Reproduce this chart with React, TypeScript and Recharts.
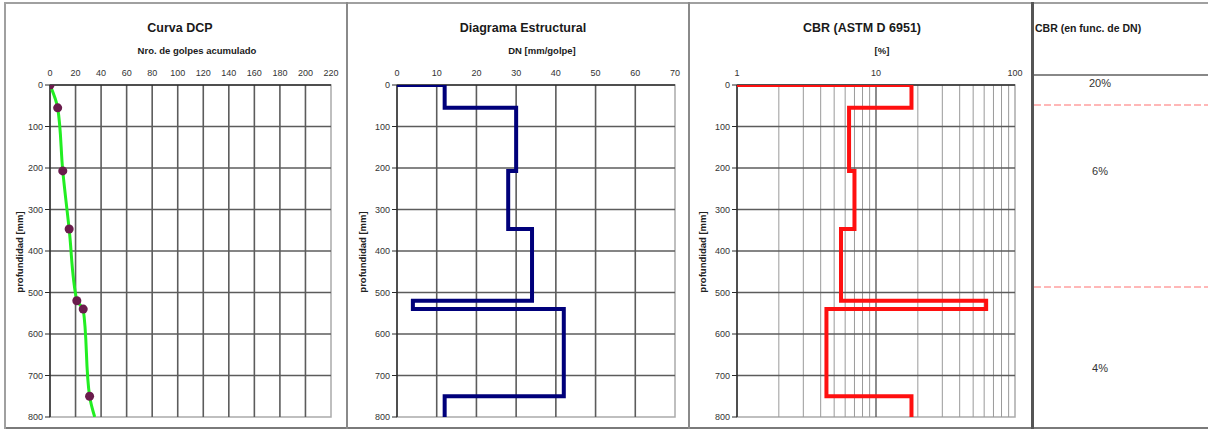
import { ScatterChart, Scatter, XAxis, YAxis, ReferenceLine, ReferenceArea } from "recharts"

// layer limits of the DCP test, depth in mm
const layerDepths = [0, 55, 207, 347, 520, 540, 750, 800]
// cumulative blows at the top of each layer
const blowCounts = [0, 6, 10, 15, 21, 26, 31]
// smoothed blow curve, one value per layer limit (runs on to 800 mm)
const trendBlows = [0, 6, 10, 15, 21, 26, 31, 35]
// penetration index per layer, mm/golpe
const dnValues = [12, 30, 28, 34, 4, 42, 12]
// CBR per layer, %
const cbrValues = [18, 6.4, 7, 5.6, 62, 4.4, 18]

const depthTicks = [0, 100, 200, 300, 400, 500, 600, 700, 800]
const blowTicks = [0, 20, 40, 60, 80, 100, 120, 140, 160, 180, 200, 220]
const dnTicks = [0, 10, 20, 30, 40, 50, 60, 70]
const cbrTicks = [1, 10, 100]
const cbrMinorTicks = [2, 3, 4, 5, 6, 7, 8, 9, 20, 30, 40, 50, 60, 70, 80, 90]

const cbrZones = ["20%", "6%", "4%"]

const FONT = '"Liberation Sans", Arial, sans-serif'
const GRID = "#5c5c5c"
const AXIS = "#2a2a2a"

const blowPoints = blowCounts.map((b, i) => ({ x: b, y: layerDepths[i] }))
const trendPoints = trendBlows.map((b, i) => ({ x: b, y: layerDepths[i] }))

// turns per-layer values into a stepped profile starting at the axis origin
function stepProfile(values: number[], start: number) {
  const pts = [{ x: start, y: layerDepths[0] }]
  values.forEach((v, i) => {
    pts.push({ x: v, y: layerDepths[i] }, { x: v, y: layerDepths[i + 1] })
  })
  return pts
}

const dnProfile = stepProfile(dnValues, 0)
const cbrProfile = stepProfile(cbrValues, 1)

const tickStyle = { fontSize: 9, fill: "#333", fontFamily: FONT }
const noShape = () => <g />

function depthAxis() {
  return (
    <YAxis
      type="number"
      dataKey="y"
      domain={[0, 800]}
      ticks={depthTicks}
      reversed
      allowDataOverflow
      width={30}
      tickSize={5}
      tickMargin={2}
      tick={tickStyle}
      tickLine={{ stroke: AXIS }}
      axisLine={{ stroke: AXIS, strokeWidth: 1.5 }}
    />
  )
}

function depthGrid() {
  return depthTicks.slice(1, -1).map((d) => (
    <ReferenceLine key={`h${d}`} y={d} stroke={GRID} strokeWidth={1.6} />
  ))
}

function Title({ x, y, size, text }: { x: number; y: number; size: number; text: string }) {
  return (
    <div
      style={{
        position: "absolute",
        left: x - 150,
        top: y - size / 2,
        width: 300,
        textAlign: "center",
        fontSize: size,
        lineHeight: 1,
        fontWeight: "bold",
        color: "#1a1a1a",
        whiteSpace: "nowrap",
      }}
    >
      {text}
    </div>
  )
}

function DepthLabel({ x }: { x: number }) {
  return (
    <div
      style={{
        position: "absolute",
        left: x,
        top: 252,
        transform: "translate(-50%, -50%) rotate(-90deg)",
        fontSize: 9.5,
        fontWeight: "bold",
        color: "#222",
        whiteSpace: "nowrap",
        lineHeight: 1,
      }}
    >
      profundidad [mm]
    </div>
  )
}

function Frame({ left, top, width, height, color }: any) {
  return <div style={{ position: "absolute", left, top, width, height, background: color }} />
}

function ZoneLabel({ top, text }: { top: number; text: string }) {
  return (
    <div
      style={{
        position: "absolute",
        left: 1034,
        width: 132,
        top,
        textAlign: "center",
        fontSize: 11,
        lineHeight: 1,
        color: "#333",
      }}
    >
      {text}
    </div>
  )
}

export default function App() {
  return (
    <div
      style={{
        position: "absolute",
        left: 0,
        top: 0,
        width: 1208,
        height: 430,
        background: "#fff",
        overflow: "hidden",
        fontFamily: FONT,
      }}
    >
      {/* Curva DCP */}
      <div style={{ position: "absolute", left: 5, top: 0 }}>
        <ScatterChart width={342} height={430} margin={{ top: 65, right: 16, bottom: 13, left: 15 }}>
          <XAxis
            type="number"
            dataKey="x"
            orientation="top"
            domain={[0, 220]}
            ticks={blowTicks}
            allowDataOverflow
            height={20}
            tickSize={5}
            tickMargin={4}
            tickLine={false}
            tick={tickStyle}
            axisLine={{ stroke: AXIS, strokeWidth: 1.5 }}
          />
          {depthAxis()}
          <ReferenceArea x1={0} x2={220} y1={0} y2={800} fill="none" stroke="#aaa" strokeWidth={1.5} />
          {blowTicks.slice(1, -1).map((b) => (
            <ReferenceLine key={`v${b}`} x={b} stroke={GRID} strokeWidth={1.6} />
          ))}
          {depthGrid()}
          <Scatter
            data={trendPoints}
            shape={noShape}
            line={{ stroke: "#22ee22", strokeWidth: 3 }}
            lineJointType="monotoneY"
            isAnimationActive={false}
          />
          <Scatter data={blowPoints} fill="#6a1c4c" isAnimationActive={false} />
        </ScatterChart>
      </div>

      {/* Diagrama Estructural */}
      <div style={{ position: "absolute", left: 348, top: 0 }}>
        <ScatterChart width={341} height={430} margin={{ top: 65, right: 14, bottom: 13, left: 19 }}>
          <XAxis
            type="number"
            dataKey="x"
            orientation="top"
            domain={[0, 70]}
            ticks={dnTicks}
            allowDataOverflow
            height={20}
            tickSize={5}
            tickMargin={4}
            tickLine={false}
            tick={tickStyle}
            axisLine={{ stroke: AXIS, strokeWidth: 1.5 }}
          />
          {depthAxis()}
          <ReferenceArea x1={0} x2={70} y1={0} y2={800} fill="none" stroke="#aaa" strokeWidth={1.5} />
          {dnTicks.slice(1, -1).map((d) => (
            <ReferenceLine key={`v${d}`} x={d} stroke={GRID} strokeWidth={1.6} />
          ))}
          {depthGrid()}
          <Scatter
            data={dnProfile}
            shape={noShape}
            line={{ stroke: "#00007a", strokeWidth: 4 }}
            isAnimationActive={false}
          />
        </ScatterChart>
      </div>

      {/* CBR (ASTM D 6951) */}
      <div style={{ position: "absolute", left: 690, top: 0 }}>
        <ScatterChart width={342} height={430} margin={{ top: 65, right: 17, bottom: 13, left: 17 }}>
          <XAxis
            type="number"
            dataKey="x"
            orientation="top"
            scale="log"
            domain={[1, 100]}
            ticks={cbrTicks}
            allowDataOverflow
            height={20}
            tickSize={5}
            tickMargin={4}
            tickLine={false}
            tick={tickStyle}
            axisLine={{ stroke: AXIS, strokeWidth: 1.5 }}
          />
          {depthAxis()}
          <ReferenceArea x1={1} x2={100} y1={0} y2={800} fill="none" stroke="#aaa" strokeWidth={1.5} />
          {cbrMinorTicks.map((c) => (
            <ReferenceLine key={`m${c}`} x={c} stroke="#9a9a9a" strokeWidth={1} />
          ))}
          <ReferenceLine x={10} stroke={GRID} strokeWidth={1.4} />
          {depthGrid()}
          <Scatter
            data={cbrProfile}
            shape={noShape}
            line={{ stroke: "#ff1010", strokeWidth: 4 }}
            isAnimationActive={false}
          />
        </ScatterChart>
      </div>

      <Title x={180} y={28} size={12.5} text="Curva DCP" />
      <Title x={197} y={51} size={9.5} text="Nro. de golpes acumulado" />
      <Title x={523} y={28} size={12.5} text="Diagrama Estructural" />
      <Title x={542} y={51} size={9.5} text="DN [mm/golpe]" />
      <Title x={862} y={28} size={12.5} text="CBR (ASTM D 6951)" />
      <Title x={882} y={51} size={9.5} text="[%]" />
      <DepthLabel x={20} />
      <DepthLabel x={363} />
      <DepthLabel x={703} />

      {/* table frame */}
      <Frame left={5} top={2} width={1203} height={2} color="#a0a0a0" />
      <Frame left={5} top={427} width={1203} height={2} color="#7a7a7a" />
      <Frame left={4} top={2} width={2} height={427} color="#a0a0a0" />
      <Frame left={346} top={2} width={2} height={427} color="#8a8a8a" />
      <Frame left={688} top={2} width={2} height={427} color="#8a8a8a" />
      <Frame left={1031} top={2} width={3} height={427} color="#555" />

      {/* CBR en función de DN */}
      <div
        style={{
          position: "absolute",
          left: 1035,
          top: 23,
          fontSize: 10.5,
          fontWeight: "bold",
          lineHeight: 1,
          color: "#1a1a1a",
          whiteSpace: "nowrap",
        }}
      >
        CBR (en func. de DN)
      </div>
      <Frame left={1034} top={74} width={174} height={1.5} color="#888" />
      <svg style={{ position: "absolute", left: 1034, top: 0 }} width={174} height={430}>
        <line x1={0} x2={174} y1={105} y2={105} stroke="#ff7070" strokeWidth={1.2} strokeDasharray="7 3" />
        <line x1={0} x2={174} y1={287} y2={287} stroke="#ff7070" strokeWidth={1.2} strokeDasharray="7 3" />
      </svg>
      <ZoneLabel top={78} text={cbrZones[0]} />
      <ZoneLabel top={166} text={cbrZones[1]} />
      <ZoneLabel top={363} text={cbrZones[2]} />
    </div>
  )
}
